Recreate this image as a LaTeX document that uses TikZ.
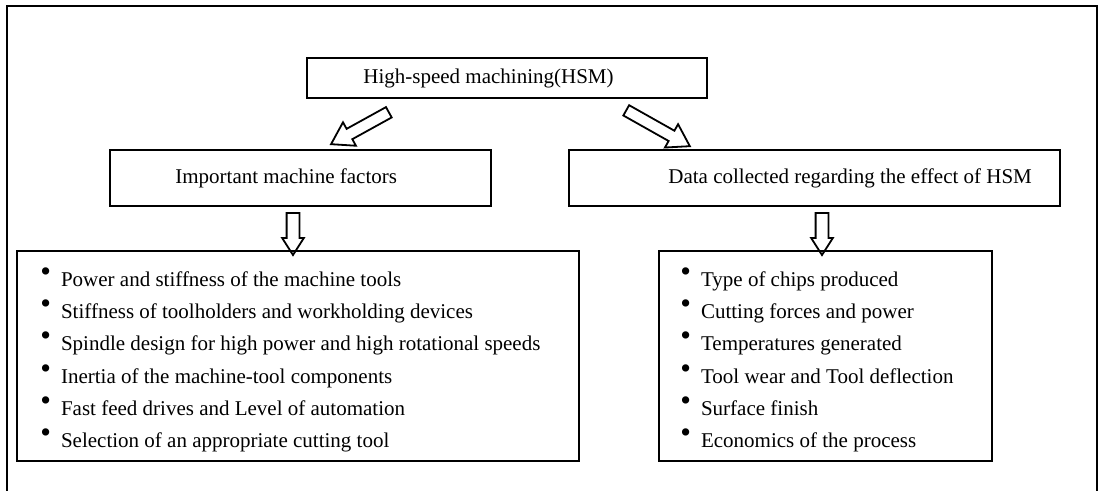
\documentclass[tikz,border=0pt]{standalone}
\usepackage{fontspec}
\setmainfont{Liberation Serif}
\usetikzlibrary{shapes}
\usetikzlibrary{shapes.arrows}
\newcommand{\itembullet}{\raisebox{2.6pt}{\scalebox{1.45}{\textbullet}}\hspace{5pt}}

\begin{document}
\begin{tikzpicture}[x=0.5pt,y=-0.5pt,font=\fontsize{10.5}{12}\selectfont,
  box/.style={draw,rectangle,line width=1pt,inner sep=0pt},
  label/.style={inner sep=0pt,anchor=west},
  item/.style={inner sep=0pt,anchor=base west},
  hollowarrow/.style={draw,single arrow,line width=0.9pt,inner xsep=0pt,single arrow tip angle=65}]
\useasboundingbox (0,0) rectangle (1099,491);
\draw[line width=0.9pt] (7,491)--(7,6)--(1097,6)--(1097,491);

\node[box,minimum width=200pt,minimum height=20pt] (H)at(507,78){};
\node[label] (Ht)at(363,78){High-speed machining(HSM)};

\node[box,minimum width=190.5pt,minimum height=28pt] (F)at(300.5,178){};
\node[label] (Ft)at(175,178){Important machine factors};
\node[box,minimum width=245.5pt,minimum height=28pt] (D)at(814.5,178){};
\node[label] (Dt)at(668,178){Data collected regarding the effect of HSM};

\node[hollowarrow,inner ysep=2.5pt,minimum height=33pt,single arrow head extend=3.75pt,rotate=208.9] (AL)at(364,126){};
\node[hollowarrow,inner ysep=2.5pt,minimum height=36.5pt,single arrow head extend=3.75pt,rotate=-29.4] (AR)at(654,126){};
\node[hollowarrow,inner ysep=2.75pt,minimum height=21pt,single arrow head extend=2.25pt,rotate=-90] (DL)at(293,229){};
\node[hollowarrow,inner ysep=2.75pt,minimum height=21pt,single arrow head extend=2.25pt,rotate=-90] (DR)at(822,229){};

% lists
\node[box,minimum width=281pt,minimum height=105pt] (FL)at(298,356){};
\node[item] (L1)at(40,287){\itembullet Power and stiffness of the machine tools};
\node[item] (L2)at(40,319){\itembullet Stiffness of toolholders and workholding devices};
\node[item] (L3)at(40,351){\itembullet Spindle design for high power and high rotational speeds};
\node[item] (L4)at(40,384){\itembullet Inertia of the machine-tool components};
\node[item] (L5)at(40,416){\itembullet Fast feed drives and Level of automation};
\node[item] (L6)at(40,448){\itembullet Selection of an appropriate cutting tool};

\node[box,minimum width=166.5pt,minimum height=105pt] (DLs)at(825.5,356){};
\node[item] (R1)at(680,287){\itembullet Type of chips produced};
\node[item] (R2)at(680,319){\itembullet Cutting forces and power};
\node[item] (R3)at(680,351){\itembullet Temperatures generated};
\node[item] (R4)at(680,384){\itembullet Tool wear and Tool deflection};
\node[item] (R5)at(680,416){\itembullet Surface finish};
\node[item] (R6)at(680,448){\itembullet Economics of the process};
\end{tikzpicture}
\end{document}
